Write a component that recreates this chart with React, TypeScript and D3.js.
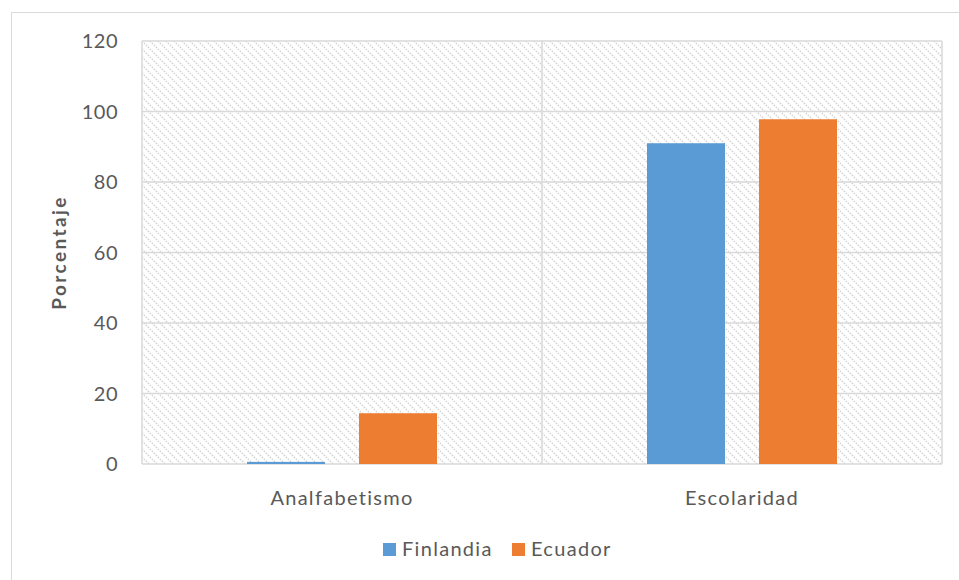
import { useEffect, useRef } from 'react';
import * as d3 from 'd3';

// chart data
const categories = ['Analfabetismo', 'Escolaridad'];
const seriesNames = ['Finlandia', 'Ecuador'];
const finlandia = [0.6, 91];
const ecuador = [14.4, 97.8];
const yTicks = [0, 20, 40, 60, 80, 100, 120];
const colors = ['#5b9bd5', '#ed7d31'];

const App = () => {
  const ref = useRef<SVGSVGElement>(null);

  useEffect(() => {
    const width = 959;
    const height = 580;
    const margin = { top: 41, right: 17, bottom: 116, left: 142 };
    const innerW = width - margin.left - margin.right;
    const innerH = height - margin.top - margin.bottom;
    const textColor = '#595959';
    const font = 'Lato, "Open Sans", sans-serif';

    const svg = d3.select(ref.current);
    svg.selectAll('*').remove();

    // hatch pattern for the plot area
    const defs = svg.append('defs');
    const pat = defs.append('pattern')
      .attr('id', 'hatch')
      .attr('patternUnits', 'userSpaceOnUse')
      .attr('width', 8)
      .attr('height', 8);
    pat.append('rect').attr('width', 8).attr('height', 8).attr('fill', '#fff');
    pat.append('path')
      .attr('d', 'M-2,-2 L10,10 M-2,6 L2,10 M6,-2 L10,2')
      .attr('stroke', '#d4d4d4')
      .attr('stroke-width', 1.6)
      .attr('stroke-dasharray', '1.4,1.4');

    // outer chart border
    svg.append('rect')
      .attr('x', 11.5).attr('y', 12.5)
      .attr('width', 960).attr('height', 580)
      .attr('fill', 'none')
      .attr('stroke', '#d9d9d9');

    const g = svg.append('g').attr('transform', `translate(${margin.left},${margin.top})`);

    const x0 = d3.scaleBand().domain(categories).range([0, innerW]);
    const x1 = d3.scaleBand().domain(seriesNames).range([0, x0.bandwidth()]).paddingInner(0.3036).paddingOuter(0.9375);
    const y = d3.scaleLinear().domain([0, 120]).range([innerH, 0]);

    g.append('rect')
      .attr('width', innerW).attr('height', innerH)
      .attr('fill', 'url(#hatch)');

    // horizontal gridlines
    g.selectAll('.grid')
      .data(yTicks)
      .enter()
      .append('line')
      .attr('x1', 0).attr('x2', innerW)
      .attr('y1', (d) => y(d)).attr('y2', (d) => y(d))
      .attr('stroke', '#d9d9d9')
      .attr('stroke-width', 1.5);

    // vertical category separators
    const seps = [0, ...categories.map((c) => (x0(c) || 0) + x0.bandwidth())];
    g.selectAll('.vsep')
      .data(seps)
      .enter()
      .append('line')
      .attr('x1', (d) => d).attr('x2', (d) => d)
      .attr('y1', 0).attr('y2', innerH)
      .attr('stroke', '#d9d9d9')
      .attr('stroke-width', 1.5);

    // bars
    const seriesData = [finlandia, ecuador];
    seriesNames.forEach((s, si) => {
      g.selectAll('.bar-' + si)
        .data(categories)
        .enter()
        .append('rect')
        .attr('x', (c) => (x0(c) || 0) + (x1(s) || 0))
        .attr('y', (c, i) => y(seriesData[si][i]))
        .attr('width', x1.bandwidth())
        .attr('height', (c, i) => innerH - y(seriesData[si][i]))
        .attr('fill', colors[si]);
    });

    // y tick labels
    g.selectAll('.ytick')
      .data(yTicks)
      .enter()
      .append('text')
      .attr('x', -24)
      .attr('y', (d) => y(d))
      .attr('dy', '0.35em')
      .attr('text-anchor', 'end')
      .attr('fill', textColor)
      .style('font-family', font)
      .style('font-size', '20px')
      .style('letter-spacing', '0.5px')
      .text((d) => d);

    // category labels
    g.selectAll('.xtick')
      .data(categories)
      .enter()
      .append('text')
      .attr('x', (c) => (x0(c) || 0) + x0.bandwidth() / 2)
      .attr('y', innerH + 41)
      .attr('text-anchor', 'middle')
      .attr('fill', textColor)
      .style('font-family', font)
      .style('font-size', '20px')
      .style('letter-spacing', '1.3px')
      .text((c) => c);

    // y axis title
    svg.append('text')
      .attr('transform', `translate(66,${margin.top + innerH / 2}) rotate(-90)`)
      .attr('text-anchor', 'middle')
      .attr('fill', textColor)
      .style('font-family', font)
      .style('font-size', '19px')
      .style('font-weight', 'bold')
      .style('letter-spacing', '2.4px')
      .text('Porcentaje');

    // legend
    const legendX = [383, 512];
    seriesNames.forEach((s, i) => {
      svg.append('rect')
        .attr('x', legendX[i]).attr('y', 543)
        .attr('width', 13).attr('height', 13)
        .attr('fill', colors[i]);
      svg.append('text')
        .attr('x', legendX[i] + 19).attr('y', 556)
        .attr('fill', textColor)
        .style('font-family', font)
        .style('font-size', '20px')
        .style('letter-spacing', '1.3px')
        .text(s);
    });
  }, []);

  return <svg ref={ref} width={959} height={580} style={{ position: 'absolute', left: 0, top: 0 }} />;
};

export default App;
